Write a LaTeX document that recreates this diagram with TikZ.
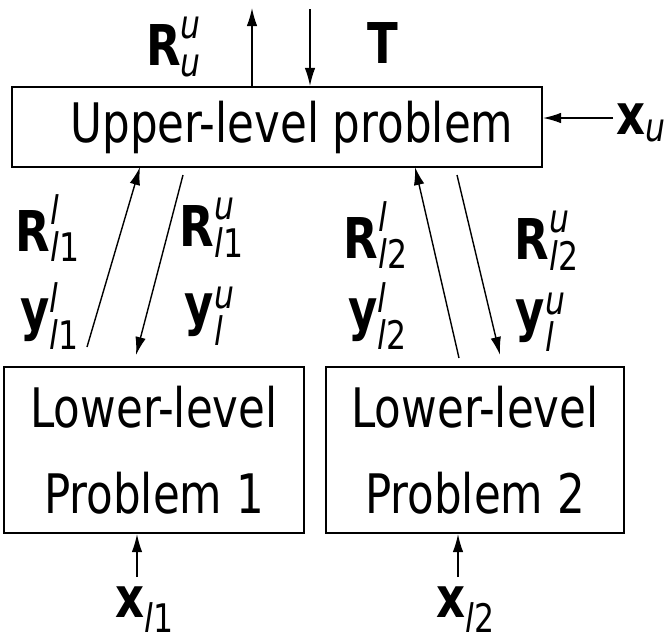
\documentclass[tikz,border=0pt]{standalone}
\usepackage{fontspec}
\setmainfont{DejaVu Sans}[FakeStretch=0.8]
\usepackage{amsmath}
\usetikzlibrary{arrows.meta}
\newcommand{\lbl}[3]{$\textbf{#1}^{\text{\itshape #2}}_{\text{#3}}$}
\newcommand{\lsub}[2]{$\textbf{#1}_{\text{#2}}$}

\begin{document}
\begin{tikzpicture}[x=0.02cm,y=-0.02cm,line width=0.8pt,>={Latex[length=3.6mm,width=2.1mm]},
  prob/.style={draw,line width=1.2pt,inner sep=0pt,align=center,font=\fontsize{31}{49}\selectfont},
  lab/.style={inner sep=0pt,font=\fontsize{32}{37}\selectfont}]
\useasboundingbox (0,0) rectangle (665,643);
% ---------- boxes ----------
\node[prob,minimum width=10.6cm,minimum height=1.6cm] (up) at (277,127) {\hspace*{0.6cm}Upper-level problem};
\node[prob,minimum width=6cm,minimum height=3.32cm] (low1) at (154,450) {Lower-level\\Problem 1};
\node[prob,minimum width=5.96cm,minimum height=3.32cm] (low2) at (475,450) {Lower-level\\Problem 2};
% ---------- upper-level inputs and outputs ----------
\coordinate (ruout) at (252,8);
\coordinate (tin) at (310,9);
\coordinate (xuin) at (613,118);
\draw[->] (up.north -| ruout) -- (ruout);
\draw[->] (tin) -- (tin |- up.north);
\draw[->] (xuin) -- (xuin -| up.east);
\node[lab] (Ruu) at (174,47) {\lbl{R}{u}{\itshape u}};
\node[lab] (T) at (383,43) {\textbf{T}};
\node[lab] (xu) at (641,123) {\lsub{x}{\itshape u}};
% ---------- exchange with problem 1 ----------
\coordinate (up1s) at (87,347);
\coordinate (up1e) at (140,167);
\coordinate (dn1s) at (183,175);
\coordinate (dn1e) at (136,355);
\draw[->] (up1s) -- (up1e);
\draw[->] (dn1s) -- (dn1e);
\node[lab] (Rll1) at (48,228) {\lbl{R}{l}{\itshape l\upshape 1}};
\node[lab] (Rul1) at (212,228) {\lbl{R}{u}{\itshape l\upshape 1}};
\node[lab] (yll1) at (50,316) {\lbl{y}{l}{\itshape l\upshape 1}};
\node[lab] (yul1) at (210,316) {\lbl{y}{u}{\itshape l}};
% ---------- exchange with problem 2 ----------
\coordinate (up2s) at (459,358);
\coordinate (up2e) at (415,167);
\coordinate (dn2s) at (457,175);
\coordinate (dn2e) at (500,355);
\draw[->] (up2s) -- (up2e);
\draw[->] (dn2s) -- (dn2e);
\node[lab] (Rll2) at (376,235) {\lbl{R}{l}{\itshape l\upshape 2}};
\node[lab] (Rul2) at (547,241) {\lbl{R}{u}{\itshape l\upshape 2}};
\node[lab] (yll2) at (378,316) {\lbl{y}{l}{\itshape l\upshape 2}};
\node[lab] (yul2) at (541,322) {\lbl{y}{u}{\itshape l}};
% ---------- lower-level inputs ----------
\coordinate (xl1in) at (137,577);
\coordinate (xl2in) at (458,577);
\draw[->] (xl1in) -- (xl1in |- low1.south);
\draw[->] (xl2in) -- (xl2in |- low2.south);
\node[lab] (xl1) at (145,610) {\lsub{x}{\itshape l\upshape 1}};
\node[lab] (xl2) at (466,610) {\lsub{x}{\itshape l\upshape 2}};
\end{tikzpicture}
\end{document}
